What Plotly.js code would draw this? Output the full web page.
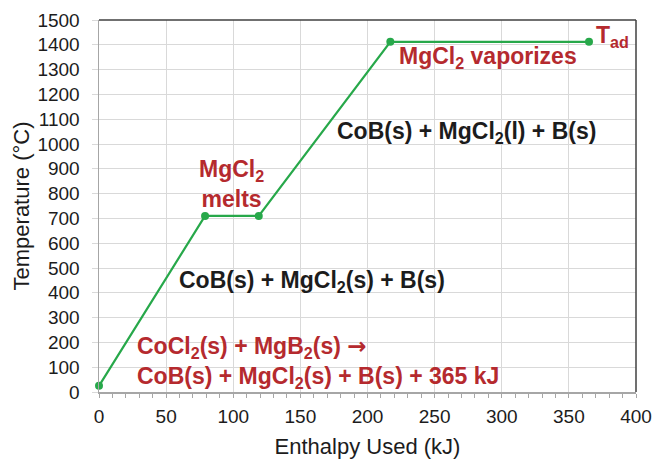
<!DOCTYPE html>
<html>
<head>
<meta charset="utf-8">
<script src="https://cdn.plot.ly/plotly-3.0.1.min.js"></script>
<style>
  html, body { margin: 0; padding: 0; background: #ffffff; }
  #chart { width: 653px; height: 459px; }
</style>
</head>
<body>
<div id="chart"></div>
<script>
// Heating path of the CoCl2 + MgB2 products: enthalpy used vs temperature
const enthalpyKJ = [0, 79, 119, 217, 365];
const temperatureC = [25, 710, 710, 1412, 1412];

const xTicks = [0, 50, 100, 150, 200, 250, 300, 350, 400];
const yTicks = [0, 100, 200, 300, 400, 500, 600, 700, 800, 900, 1000, 1100, 1200, 1300, 1400, 1500];

const red = '#b52a2e';
const ink = '#1c1c1c';
const font = '"Liberation Sans", Arial, sans-serif';
const arrow = '<span style="font-family:\'DejaVu Sans\'">\u2192</span>';

const trace = {
  x: enthalpyKJ,
  y: temperatureC,
  mode: 'lines+markers',
  line: { color: '#27a84a', width: 2.2 },
  marker: { color: '#27a84a', size: 8 },
  cliponaxis: false,
  hoverinfo: 'skip',
  showlegend: false
};

function note(x, y, text, color, anchor, align) {
  return {
    x: x, y: y, xref: 'x', yref: 'y', text: text, showarrow: false,
    xanchor: anchor || 'center', yanchor: 'middle', align: align || 'center',
    font: { family: font, size: 23, color: color }
  };
}

const annotations = [
  note(99, 838, '<b>MgCl<sub>2</sub><br>melts</b>', red),
  note(369, 1433, '<b>T<sub>ad</sub></b>', red, 'left'),
  note(290, 1350, '<b>MgCl<sub>2</sub> vaporizes</b>', red),
  note(274, 1046, '<b>CoB(s) + MgCl<sub>2</sub>(l) + B(s)</b>', ink),
  note(159, 446, '<b>CoB(s) + MgCl<sub>2</sub>(s) + B(s)</b>', ink),
  note(27, 120, '<b>CoCl<sub>2</sub>(s) + MgB<sub>2</sub>(s) ' + arrow + '<br>CoB(s) + MgCl<sub>2</sub>(s) + B(s) + 365 kJ</b>', red, 'left', 'left')
];

// dark frame on the top and right edges of the plot area
const frame = [
  { type: 'line', xref: 'paper', yref: 'paper', x0: 0, x1: 1, y0: 1, y1: 1,
    line: { color: '#404040', width: 1.5 } },
  { type: 'line', xref: 'paper', yref: 'paper', x0: 1, x1: 1, y0: 0, y1: 1,
    line: { color: '#404040', width: 1.5 } }
];

const layout = {
  width: 653,
  height: 459,
  margin: { l: 99, r: 17, t: 20, b: 67 },
  paper_bgcolor: '#ffffff',
  plot_bgcolor: '#ffffff',
  font: { family: font, size: 19, color: ink },
  xaxis: {
    range: [0, 400],
    tickvals: xTicks,
    ticktext: xTicks.map(String),
    showgrid: true, gridcolor: '#d9d9d9', gridwidth: 1,
    zeroline: false,
    showline: true, linecolor: '#a6a6a6', linewidth: 1.5,
    ticks: 'outside', ticklen: 4, tickcolor: '#a6a6a6', tickwidth: 1,
    ticklabelstandoff: 3,
    minor: { dtick: 10, ticks: 'outside', ticklen: 4, tickcolor: '#a6a6a6', tickwidth: 1, showgrid: false },
    tickfont: { family: font, size: 19, color: ink },
    title: { text: 'Enthalpy Used (kJ)', font: { family: font, size: 22, color: ink }, standoff: 13 }
  },
  yaxis: {
    range: [0, 1500],
    tickvals: yTicks,
    ticktext: yTicks.map(String),
    showgrid: true, gridcolor: '#d9d9d9', gridwidth: 1,
    zeroline: false,
    showline: true, linecolor: '#a6a6a6', linewidth: 1.5,
    ticks: 'outside', ticklen: 6, tickcolor: '#d9d9d9', tickwidth: 1,
    ticklabelstandoff: 8,
    tickfont: { family: font, size: 19, color: ink },
    title: { text: 'Temperature (\u00B0C)', font: { family: font, size: 22, color: ink }, standoff: 1 }
  },
  shapes: frame,
  annotations: annotations
};

Plotly.newPlot('chart', [trace], layout, { displayModeBar: false, staticPlot: true });
</script>
</body>
</html>
